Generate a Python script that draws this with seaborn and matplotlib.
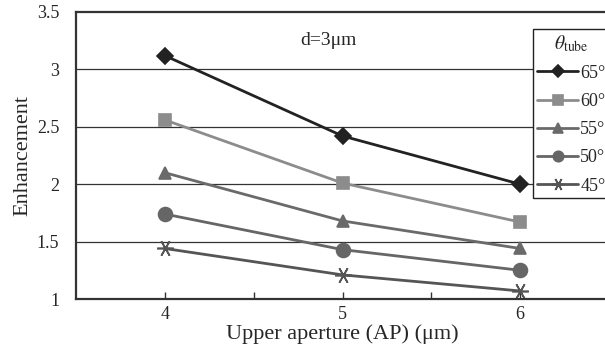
import pandas as pd
import matplotlib
matplotlib.use('Agg')
import matplotlib.pyplot as plt
import seaborn as sns

# Data
apertures = [4, 5, 6]
angles = ['65°', '60°', '55°', '50°', '45°']
enh_65 = [3.12, 2.42, 2.00]
enh_60 = [2.56, 2.01, 1.67]
enh_55 = [2.10, 1.68, 1.44]
enh_50 = [1.74, 1.43, 1.25]
enh_45 = [1.44, 1.21, 1.07]

series = [enh_65, enh_60, enh_55, enh_50, enh_45]

sns.set_theme(style='white')
plt.rcParams['font.family'] = ['Liberation Serif', 'DejaVu Serif']
plt.rcParams['mathtext.fontset'] = 'stix'

colors = ['#222222', '#8c8c8c', '#6a6a6a', '#666666', '#555555']
markers = ['D', 's', '^', 'o', (6, 2, 30)]
msizes = [8, 9, 9, 10, 12]

fig = plt.figure(figsize=(6.05, 3.56), dpi=100)
ax = fig.add_axes([76 / 605, 1 - 299 / 356, 533 / 605, 287 / 356])

for y in [1.5, 2, 2.5, 3]:
    ax.axhline(y, color='#333333', lw=0.9, zorder=0)

# one lineplot per angle (filled and line-art markers can't share a style map)
for ang, vals, c, m, ms in zip(angles, series, colors, markers, msizes):
    d = pd.DataFrame({'AP': apertures, 'Enhancement': vals})
    sns.lineplot(data=d, x='AP', y='Enhancement', color=c, marker=m,
                 markersize=ms, markeredgecolor=c, markeredgewidth=1.2,
                 lw=2, label=ang, ax=ax)

ax.set_xlim(3.5, 6.5)
ax.set_ylim(1, 3.5)
ax.set_xticks([4, 5, 6])
ax.set_xticks([4.5, 5.5], minor=True)
ax.set_yticks([1, 1.5, 2, 2.5, 3, 3.5])
ax.set_yticklabels(['1', '1.5', '2', '2.5', '3', '3.5'])
ax.tick_params(axis='x', which='both', direction='in', length=5, width=1,
               color='#333333', bottom=True, labelsize=13, pad=5)
ax.tick_params(axis='y', length=0, labelsize=13, pad=12)

for side in ['left', 'top', 'bottom']:
    ax.spines[side].set_color('#333333')
    ax.spines[side].set_linewidth(1.6)
ax.spines['right'].set_visible(False)

ax.set_xlabel('Upper aperture (AP) (μm)', fontsize=16, labelpad=1)
ax.set_ylabel('Enhancement', fontsize=16, labelpad=3)

ax.text(4.92, 3.25, 'd=3μm', fontsize=14, ha='center', va='center')

leg = ax.legend(title=r'$\theta_{\mathrm{tube}}$', loc='upper right',
                bbox_to_anchor=(1.0, 0.94), frameon=True, fancybox=False,
                edgecolor='#222222', fontsize=13, title_fontsize=14,
                handlelength=2.3, handletextpad=0.1, labelspacing=0.62,
                borderpad=0.2, borderaxespad=0.0)
leg.get_frame().set_linewidth(1.0)
leg.get_frame().set_facecolor('white')
leg.get_frame().set_alpha(1)
for h in leg.legend_handles:
    h.set_markersize(h.get_markersize() * 0.75)

fig.savefig('out.png', dpi=100)
